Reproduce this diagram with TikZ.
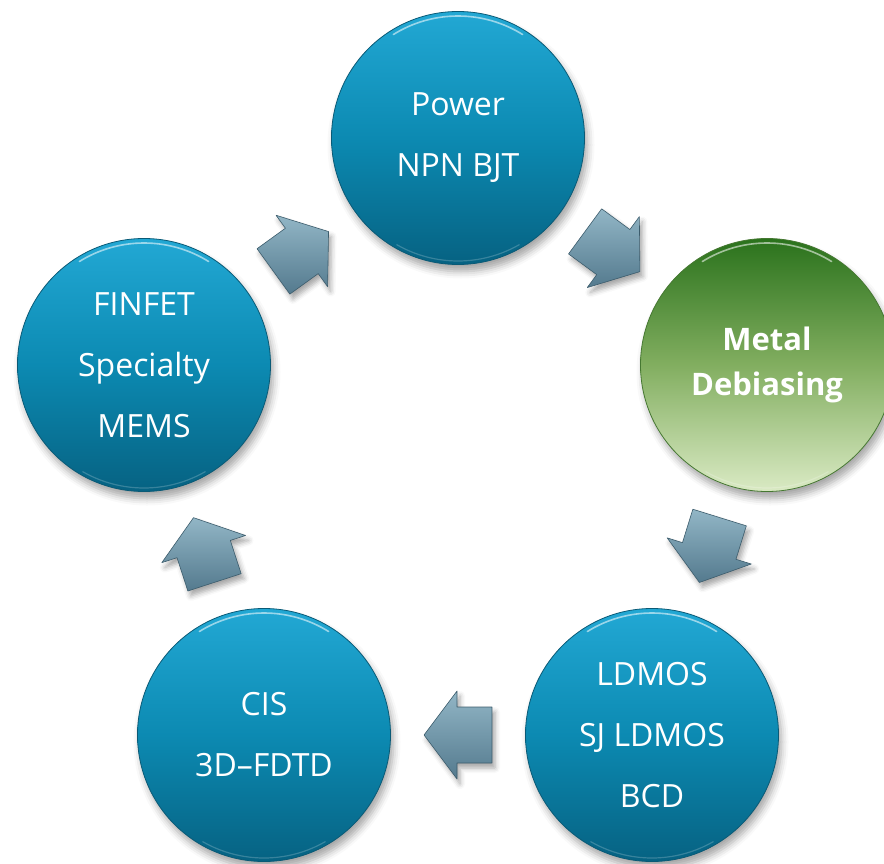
\documentclass[tikz,border=0pt]{standalone}
\usepackage{fontspec}
\setmainfont{Open Sans}
\usetikzlibrary{calc,shadows.blur}
\definecolor{bluetop}{RGB}{34,168,212}
\definecolor{bluemid}{RGB}{12,138,178}
\definecolor{bluebot}{RGB}{6,98,130}
\definecolor{bluerim}{RGB}{10,90,118}
\definecolor{greentop}{RGB}{42,114,28}
\definecolor{greenmid}{RGB}{130,174,96}
\definecolor{greenbot}{RGB}{218,234,196}
\definecolor{greenrim}{RGB}{70,120,50}
\definecolor{arrowtop}{RGB}{146,182,198}
\definecolor{arrowbot}{RGB}{84,122,142}
\definecolor{arrowrim}{RGB}{60,92,108}
\tikzset{
  bubble/.style={circle, minimum size=253pt, inner sep=0pt, draw=bluerim, line width=0.8pt,
    top color=bluetop, bottom color=bluebot, middle color=bluemid,
    text=white, align=center, font=\fontsize{32}{61}\selectfont,
    blur shadow={shadow xshift=3pt, shadow yshift=-7pt, shadow blur radius=7pt, shadow opacity=35}},
  greenbubble/.style={bubble, draw=greenrim, top color=greentop, bottom color=greenbot, middle color=greenmid,
    font=\bfseries\fontsize{31}{45}\selectfont},
  blockarrow/.style={draw=arrowrim, line width=0.6pt, line join=round,
    top color=arrowtop, bottom color=arrowbot,
    blur shadow={shadow xshift=3pt, shadow yshift=-5pt, shadow blur radius=5pt, shadow opacity=35}},
  gloss/.style={white, opacity=0.55, line width=1.6pt, line cap=round}
}
\newcommand{\blockarr}[2]{%
  \coordinate (am) at ($(#1.center)!0.5!(#2.center)$);
  \coordinate (ab) at ($(am)!1pt!(#2.center)$);
  \coordinate (atip) at ($(am)!34pt!(#2.center)$);
  \coordinate (aend) at ($(am)!-34pt!(#2.center)$);
  \path[blockarrow] ($(aend)!28pt!90:(#2.center)$) -- ($(ab)!28pt!90:(#2.center)$)
    -- ($(ab)!44pt!90:(#2.center)$) -- (atip) -- ($(ab)!44pt!-90:(#2.center)$)
    -- ($(ab)!28pt!-90:(#2.center)$) -- ($(aend)!28pt!-90:(#2.center)$) -- cycle;
}
\newcommand{\glossarc}[1]{%
  \draw[gloss] (#1.center) ++(58:122) arc[start angle=58, end angle=122, radius=122];
  \draw[white, opacity=0.2, line width=1.2pt] (#1.center) ++(-60:123) arc[start angle=-60, end angle=-120, radius=123];
}
\begin{document}
\begin{tikzpicture}[x=1pt,y=1pt]
\useasboundingbox (0,0) rectangle (884,-864);
\node[bubble] (top) at (458,-138) {Power\\NPN BJT};
\node[greenbubble] (metal) at (767,-365) {Metal\\Debiasing};
\node[bubble] (br) at (652,-735) {LDMOS\\SJ LDMOS\\BCD};
\node[bubble] (bl) at (264,-735) {CIS\\3D–FDTD};
\node[bubble] (left) at (144,-365) {FINFET\\Specialty\\MEMS};
\glossarc{top}\glossarc{metal}\glossarc{br}\glossarc{bl}\glossarc{left}
\blockarr{left}{top}
\blockarr{top}{metal}
\blockarr{metal}{br}
\blockarr{br}{bl}
\blockarr{bl}{left}
\end{tikzpicture}
\end{document}
